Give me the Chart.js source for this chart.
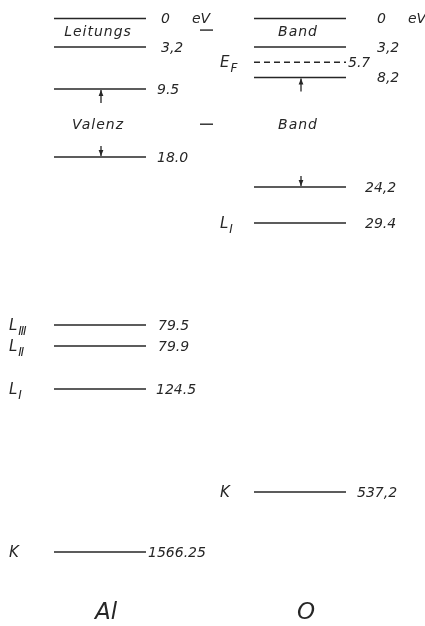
<!DOCTYPE html>
<html>
<head>
<meta charset="utf-8">
<script src="https://cdn.jsdelivr.net/npm/chart.js@4.4.1/dist/chart.umd.min.js"></script>
<style>
  html, body { margin: 0; padding: 0; background: #fff; }
  #wrap { width: 425px; height: 626px; position: relative; }
</style>
</head>
<body>
<div id="wrap"><canvas id="levels"></canvas></div>
<script>
// Energy levels (eV below vacuum), kept as printed in the figure
const elements = ['Al', 'O'];
const alLevels = ['0', '3,2', '9.5', '18.0', '79.5', '79.9', '124.5', '1566.25'];
const alShells = ['', '', '', '', 'L_Ⅲ', 'L_Ⅱ', 'L_Ⅰ', 'K'];
const oLevels = ['0', '3,2', '8,2', '24,2', '29.4', '537,2'];
const oShells = ['', '', '', '', 'L_Ⅰ', 'K'];
const oFermi = '5.7';

// valence band edges marked with arrows: [top, bottom]
const alValence = ['9.5', '18.0'];
const oValence = ['8,2', '24,2'];

// band names and the energy they sit at
const alBands = [['Leitungs', 1.6], ['Valenz', 14]];
const oBands = [['Band', 1.6], ['Band', 14]];

const toEV = s => parseFloat(String(s).replace(',', '.'));

// ---- schematic (broken) energy axis ----
// energy -> depth within the drawing, the diagram is not to scale
const axisBreaks = [
  [0, 18.5], [3.2, 47], [8.2, 77.5], [9.5, 89], [18, 157], [24.2, 187],
  [29.4, 223], [79.5, 325], [79.9, 346], [124.5, 389], [537.2, 492], [1566.25, 552]
];

class SchematicScale extends Chart.LinearScale {
  depthOf(v) {
    const k = this.options.breaks;
    if (v <= k[0][0]) return k[0][1];
    for (let i = 1; i < k.length; i++) {
      if (v <= k[i][0]) {
        const [e0, d0] = k[i - 1], [e1, d1] = k[i];
        return d0 + (v - e0) / (e1 - e0) * (d1 - d0);
      }
    }
    return k[k.length - 1][1];
  }
  getPixelForValue(v) {
    return this.top + this.depthOf(v) / this.options.depth * (this.bottom - this.top);
  }
}
SchematicScale.id = 'schematic';
SchematicScale.defaults = Chart.LinearScale.defaults;
Chart.register(SchematicScale);

// ---- styling ----
const INK = '#262626';
const HALF = 0.23;             // half width of a level line, in column units
const LABEL_FONT = 'italic 14px "DejaVu Sans"';
const colStyle = {
  Al: { gap: [15, 15, 11, 11, 12, 12, 10, 2], shellDx: -45 },
  O:  { gap: [31, 31, 31, 19, 19, 11], shellDx: -34 }
};

const columns = [
  { name: 'Al', levels: alLevels, shells: alShells, valence: alValence, bands: alBands },
  { name: 'O',  levels: oLevels,  shells: oShells,  valence: oValence,  bands: oBands }
];

const datasets = [];
columns.forEach((c, ci) => {
  c.levels.forEach(lv => {
    datasets.push({
      data: [{ x: ci - HALF, y: toEV(lv) }, { x: ci + HALF, y: toEV(lv) }],
      borderColor: INK, borderWidth: 1.6, pointRadius: 0, tension: 0
    });
  });
});
// Fermi level of oxygen, dashed
datasets.push({
  data: [{ x: 1 - HALF, y: toEV(oFermi) }, { x: 1 + HALF, y: toEV(oFermi) }],
  borderColor: INK, borderWidth: 1.6, borderDash: [6, 4], pointRadius: 0
});

function subText(ctx, main, sub, x, y, size) {
  ctx.font = `italic ${size}px "DejaVu Sans"`;
  ctx.textAlign = 'left';
  ctx.textBaseline = 'middle';
  ctx.fillText(main, x, y);
  if (!sub) return;
  const w = ctx.measureText(main).width;
  ctx.font = `italic ${Math.round(size * 0.78)}px "DejaVu Sans"`;
  ctx.fillText(sub, x + w + 1, y + size * 0.38);
}

function arrow(ctx, x, yFrom, yTo) {
  const dir = Math.sign(yTo - yFrom);
  ctx.beginPath();
  ctx.moveTo(x, yFrom);
  ctx.lineTo(x, yTo);
  ctx.stroke();
  ctx.beginPath();
  ctx.moveTo(x, yTo);
  ctx.lineTo(x - 2.4, yTo - dir * 6);
  ctx.lineTo(x + 2.4, yTo - dir * 6);
  ctx.closePath();
  ctx.fill();
}

const levelText = {
  id: 'levelText',
  afterDatasetsDraw(chart) {
    const { ctx, scales: { x, y }, chartArea } = chart;
    ctx.save();
    ctx.fillStyle = INK;
    ctx.strokeStyle = INK;
    ctx.lineWidth = 1.3;

    columns.forEach((c, ci) => {
      const st = colStyle[c.name];
      const xl = x.getPixelForValue(ci - HALF);
      const xr = x.getPixelForValue(ci + HALF);
      const xc = x.getPixelForValue(ci);

      // values to the right of each level
      ctx.textAlign = 'left';
      ctx.textBaseline = 'middle';
      c.levels.forEach((lv, i) => {
        const py = y.getPixelForValue(toEV(lv)) + 1;
        ctx.font = LABEL_FONT;
        ctx.fillText(lv, xr + st.gap[i], py);
        if (i === 0) ctx.fillText('eV', xr + st.gap[i] + 31, py);
      });

      // shell names on the left
      c.shells.forEach((sh, i) => {
        if (!sh) return;
        const [main, sub] = sh.split('_');
        subText(ctx, main, sub, xl + st.shellDx, y.getPixelForValue(toEV(c.levels[i])) + 1, 15);
      });

      // band names
      ctx.font = 'italic 14px "DejaVu Sans"';
      ctx.textAlign = 'center';
      ctx.textBaseline = 'middle';
      ctx.letterSpacing = '1px';
      c.bands.forEach(([txt, e]) => ctx.fillText(txt, xc - 2, y.getPixelForValue(e)));
      ctx.letterSpacing = '0px';

      // arrows marking the valence band width
      const yTop = y.getPixelForValue(toEV(c.valence[0]));
      const yBot = y.getPixelForValue(toEV(c.valence[1]));
      arrow(ctx, xc + 1, yTop + 14, yTop + 1);
      arrow(ctx, xc + 1, yBot - 11, yBot - 1);

      // element symbol under the column
      ctx.font = 'italic 300 23px "DejaVu Sans"';
      ctx.textAlign = 'center';
      ctx.textBaseline = 'middle';
      ctx.fillText(c.name, xc + 6, chartArea.bottom - 13);
    });

    // Fermi level label
    const yF = y.getPixelForValue(toEV(oFermi));
    ctx.font = LABEL_FONT;
    ctx.textAlign = 'left';
    ctx.textBaseline = 'middle';
    ctx.fillText(oFermi, x.getPixelForValue(1 + HALF) + 2, yF + 1);
    subText(ctx, 'E', 'F', x.getPixelForValue(1 - HALF) - 34, yF + 1, 15);

    // short marks between the columns
    ctx.lineWidth = 1.4;
    [1.3, 13.9].forEach(e => {
      const py = y.getPixelForValue(e);
      ctx.beginPath();
      ctx.moveTo(x.getPixelForValue(0.5), py);
      ctx.lineTo(x.getPixelForValue(0.565), py);
      ctx.stroke();
    });
    ctx.restore();
  }
};

new Chart(document.getElementById('levels'), {
  type: 'line',
  data: { datasets },
  options: {
    responsive: true,
    maintainAspectRatio: false,
    animation: false,
    events: [],
    layout: { padding: 0 },
    plugins: { legend: { display: false }, tooltip: { enabled: false } },
    scales: {
      x: { type: 'linear', min: -0.5, max: 1.625, display: false },
      y: { type: 'schematic', breaks: axisBreaks, depth: 626, min: 0, max: 1600, display: false }
    }
  },
  plugins: [levelText]
});
</script>
</body>
</html>
